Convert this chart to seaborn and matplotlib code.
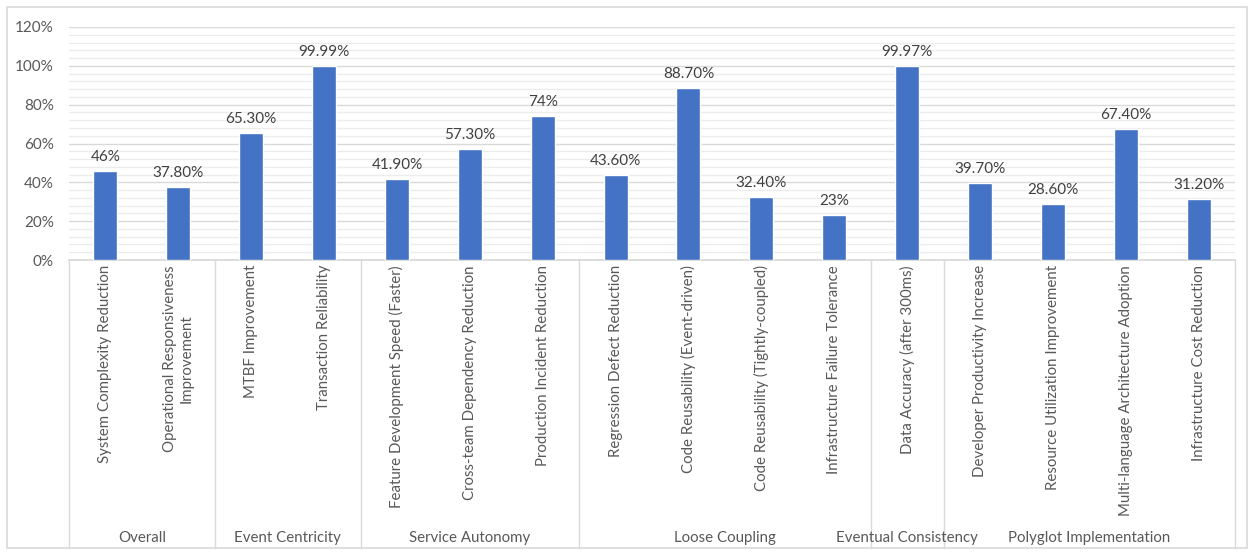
import matplotlib
matplotlib.use("Agg")
import matplotlib.pyplot as plt
from matplotlib.lines import Line2D
from matplotlib.patches import Rectangle
from matplotlib.ticker import FuncFormatter, MultipleLocator
import pandas as pd
import seaborn as sns

categories = [
    "System Complexity Reduction",
    "Operational Responsiveness\nImprovement",
    "MTBF Improvement",
    "Transaction Reliability",
    "Feature Development Speed (Faster)",
    "Cross-team Dependency Reduction",
    "Production Incident Reduction",
    "Regression Defect Reduction",
    "Code Reusability (Event-driven)",
    "Code Reusability (Tightly-coupled)",
    "Infrastructure Failure Tolerance",
    "Data Accuracy (after 300ms)",
    "Developer Productivity Increase",
    "Resource Utilization Improvement",
    "Multi-language Architecture Adoption",
    "Infrastructure Cost Reduction",
]
values = [46, 37.8, 65.3, 99.99, 41.9, 57.3, 74, 43.6, 88.7, 32.4, 23, 99.97,
          39.7, 28.6, 67.4, 31.2]
value_labels = ["46%", "37.80%", "65.30%", "99.99%", "41.90%", "57.30%", "74%",
                "43.60%", "88.70%", "32.40%", "23%", "99.97%", "39.70%",
                "28.60%", "67.40%", "31.20%"]
groups = ["Overall", "Event Centricity", "Service Autonomy", "Loose Coupling",
          "Eventual Consistency", "Polyglot Implementation"]
group_sizes = [2, 2, 3, 4, 1, 4]

BAR = "#4472C4"
TEXT = "#595959"
GRID = "#d9d9d9"

sns.set_theme(style="white")
plt.rcParams["font.family"] = ["Lato", "DejaVu Sans"]

df = pd.DataFrame({"category": categories, "value": values})

W, H = 1250, 553
fig = plt.figure(figsize=(W / 100, H / 100), dpi=100)
fig.patch.set_facecolor("white")
fig.patches.append(Rectangle((7 / W, 5 / H), 1240 / W, 541 / H, transform=fig.transFigure,
                             fill=False, edgecolor=GRID, linewidth=1.2))

left, right, top, bottom = 69, 1235, 27, 260
ax = fig.add_axes([left / W, 1 - bottom / H, (right - left) / W, (bottom - top) / H])

sns.barplot(data=df, x="category", y="value", order=categories, color=BAR,
            width=0.33, saturation=1, ax=ax, zorder=3)

ax.set_xlim(-0.5, len(categories) - 0.5)
ax.set_ylim(0, 120)
ax.yaxis.set_major_locator(MultipleLocator(20))
ax.yaxis.set_minor_locator(MultipleLocator(4))
ax.yaxis.set_major_formatter(FuncFormatter(lambda v, p: f"{v:.0f}%"))
ax.grid(axis="y", which="major", color=GRID, linewidth=1.0, zorder=0)
ax.grid(axis="y", which="minor", color="#ececec", linewidth=1.0, zorder=0)
ax.set_axisbelow(True)
for s in ["top", "right", "left"]:
    ax.spines[s].set_visible(False)
ax.spines["bottom"].set_color(GRID)
ax.tick_params(axis="y", which="both", length=0, labelsize=11, labelcolor=TEXT, pad=11)
ax.set_xticks([])
ax.set_xlabel("")
ax.set_ylabel("")

for i, (v, lab) in enumerate(zip(values, value_labels)):
    ax.annotate(lab, (i, v), xytext=(0, 7), textcoords="offset pixels",
                ha="center", va="bottom", fontsize=11, color="#404040")

xt = ax.get_xaxis_transform()
for i, cat in enumerate(categories):
    ax.annotate(cat, (i, 0), xycoords=xt, xytext=(0, -5), textcoords="offset pixels",
                rotation=90, ha="center", va="top", multialignment="center",
                fontsize=10.8, color=TEXT, annotation_clip=False)

sep_bottom = -(548 - bottom) / (bottom - top)
start = 0
edges = [-0.5]
for g, n in zip(groups, group_sizes):
    centre = start + (n - 1) / 2
    ax.annotate(g, (centre, 0), xycoords=xt, xytext=(0, -(538 - bottom)),
                textcoords="offset pixels", ha="center", va="center",
                fontsize=10.8, color=TEXT, annotation_clip=False)
    start += n
    edges.append(start - 0.5)
for e in edges:
    ax.add_line(Line2D([e, e], [0, sep_bottom], transform=xt, color=GRID,
                       linewidth=1.0, clip_on=False))

fig.savefig("out.png", dpi=100)
